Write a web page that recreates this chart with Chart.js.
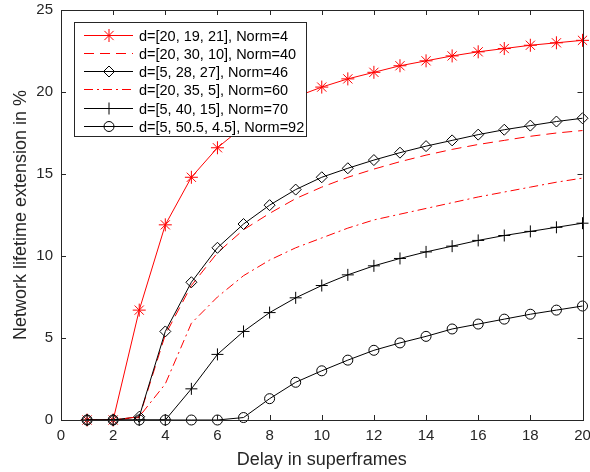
<!DOCTYPE html>
<html>
<head>
<meta charset="utf-8">
<script src="https://cdn.jsdelivr.net/npm/chart.js@4.4.1/dist/chart.umd.min.js"></script>
<style>
    html, body { margin: 0; padding: 0; background: #ffffff; }
    #chartWrap { width: 590px; height: 472px; }
</style>
</head>
<body>
<div id="chartWrap"><canvas id="lifetimeChart"></canvas></div>
<script>
// delay in superframes
const delays = [1, 2, 3, 4, 5, 6, 7, 8, 9, 10, 11, 12, 13, 14, 15, 16, 17, 18, 19, 20];

const seriesLabels = [
    "d=[20, 19, 21], Norm=4",
    "d=[20, 30, 10], Norm=40",
    "d=[5, 28, 27], Norm=46",
    "d=[20, 35, 5], Norm=60",
    "d=[5, 40, 15], Norm=70",
    "d=[5, 50.5, 4.5], Norm=92",
];

// lifetime extension in %
const norm4 = [0, 0, 6.7, 11.9, 14.8, 16.6, 17.9, 18.9, 19.7, 20.3, 20.8, 21.2, 21.6, 21.9, 22.2, 22.45, 22.65, 22.85, 23.0, 23.15];
const norm40 = [0, 0, 0.15, 5.2, 8.2, 10.2, 11.6, 12.6, 13.5, 14.2, 14.8, 15.3, 15.75, 16.15, 16.5, 16.8, 17.05, 17.3, 17.5, 17.65];
const norm46 = [0, 0, 0.2, 5.4, 8.4, 10.5, 11.95, 13.1, 14.05, 14.8, 15.35, 15.85, 16.3, 16.7, 17.05, 17.4, 17.7, 17.95, 18.2, 18.4];
const norm60 = [0, 0, 0.2, 2.2, 5.9, 7.5, 8.8, 9.75, 10.5, 11.1, 11.7, 12.2, 12.55, 12.9, 13.25, 13.6, 13.9, 14.2, 14.5, 14.75];
const norm70 = [0, 0, 0, 0, 1.9, 4.0, 5.4, 6.55, 7.45, 8.2, 8.85, 9.4, 9.85, 10.25, 10.6, 10.95, 11.25, 11.5, 11.75, 12.0];
const norm92 = [0, 0, 0, 0, 0, 0, 0.15, 1.3, 2.3, 3.0, 3.65, 4.25, 4.7, 5.1, 5.55, 5.85, 6.15, 6.45, 6.7, 6.95];

const xTicks = [0, 2, 4, 6, 8, 10, 12, 14, 16, 18, 20];
const yTicks = [0, 5, 10, 15, 20, 25];

const AXIS_COLOR = "#262626";
const FONT_FAMILY = "'Liberation Sans', Arial, sans-serif";
const RED = "#ff0000";
const BLACK = "#000000";
const NO_FILL = "rgba(255, 255, 255, 0)";

let lifetimePlot = {};

lifetimePlot.makeDataset = function (label, values, color, dash, pointStyle, radius, order) {
    return {
        label: label,
        data: values.map((v, i) => ({ x: delays[i], y: v })),
        borderColor: color,
        backgroundColor: NO_FILL,
        borderWidth: 1,
        borderDash: dash,
        pointStyle: pointStyle,
        pointRadius: radius,
        pointBorderColor: color,
        pointBackgroundColor: NO_FILL,
        pointBorderWidth: 1,
        tension: 0,
        clip: false,
        order: order,
    };
};

// MATLAB-like box with inward ticks on all four sides
lifetimePlot.framePlugin = {
    id: "frame",
    afterDraw: function (chart) {
        let ctx = chart.ctx;
        let area = chart.chartArea;
        let xScale = chart.scales.x;
        let yScale = chart.scales.y;
        let tickLen = 5;

        ctx.save();
        ctx.strokeStyle = AXIS_COLOR;
        ctx.lineWidth = 1;
        ctx.setLineDash([]);
        ctx.strokeRect(Math.round(area.left) + 0.5, Math.round(area.top) + 0.5,
            Math.round(area.right - area.left), Math.round(area.bottom - area.top));

        ctx.beginPath();
        for (const t of xTicks) {
            let px = Math.round(xScale.getPixelForValue(t)) + 0.5;
            ctx.moveTo(px, area.bottom);
            ctx.lineTo(px, area.bottom - tickLen);
            ctx.moveTo(px, area.top);
            ctx.lineTo(px, area.top + tickLen);
        }
        for (const t of yTicks) {
            let py = Math.round(yScale.getPixelForValue(t)) + 0.5;
            ctx.moveTo(area.left, py);
            ctx.lineTo(area.left + tickLen, py);
            ctx.moveTo(area.right, py);
            ctx.lineTo(area.right - tickLen, py);
        }
        ctx.stroke();
        ctx.restore();
    },
};

// boxed legend in the upper left of the plot, line sample with marker
lifetimePlot.legendPlugin = {
    id: "boxLegend",
    afterDraw: function (chart) {
        let ctx = chart.ctx;
        let box = { x: 74, y: 22, w: 232, h: 114 };
        let rowTop = 34.5;
        let rowStep = 18.3;

        ctx.save();
        ctx.fillStyle = "#ffffff";
        ctx.fillRect(box.x, box.y, box.w, box.h);
        ctx.strokeStyle = AXIS_COLOR;
        ctx.lineWidth = 1;
        ctx.setLineDash([]);
        ctx.strokeRect(box.x + 0.5, box.y + 0.5, box.w, box.h);

        ctx.font = "14.5px " + FONT_FAMILY;
        ctx.textBaseline = "middle";
        ctx.textAlign = "left";

        chart.data.datasets.forEach(function (ds, i) {
            let y = Math.round(rowTop + i * rowStep) + 0.5;
            ctx.strokeStyle = ds.borderColor;
            ctx.lineWidth = 1;
            ctx.setLineDash(ds.borderDash || []);
            ctx.beginPath();
            ctx.moveTo(84, y);
            ctx.lineTo(133, y);
            ctx.stroke();
            ctx.setLineDash([]);
            if (ds.pointRadius > 0) {
                ctx.fillStyle = NO_FILL;
                ctx.strokeStyle = ds.pointBorderColor;
                Chart.helpers.drawPoint(ctx, {
                    pointStyle: ds.pointStyle,
                    radius: ds.pointRadius,
                    rotation: 0,
                    borderWidth: 1,
                }, 109, y);
            }
            ctx.fillStyle = "#000000";
            ctx.fillText(ds.label, 139, y + 1);
        });
        ctx.restore();
    },
};

lifetimePlot.create = function () {
    let datasets = [];
    datasets.push(lifetimePlot.makeDataset(seriesLabels[0], norm4, RED, [], "star", 6.5, 5));
    datasets.push(lifetimePlot.makeDataset(seriesLabels[1], norm40, RED, [10, 6], "circle", 0, 4));
    datasets.push(lifetimePlot.makeDataset(seriesLabels[2], norm46, BLACK, [], "rectRot", 5.5, 3));
    datasets.push(lifetimePlot.makeDataset(seriesLabels[3], norm60, RED, [9, 4, 2, 4], "circle", 0, 2));
    datasets.push(lifetimePlot.makeDataset(seriesLabels[4], norm70, BLACK, [], "cross", 6, 1));
    datasets.push(lifetimePlot.makeDataset(seriesLabels[5], norm92, BLACK, [], "circle", 5, 0));

    let tickFont = { family: FONT_FAMILY, size: 15 };
    let titleFont = { family: FONT_FAMILY, size: 18 };

    lifetimePlot.canvas = document.getElementById("lifetimeChart");
    lifetimePlot.chart = new Chart(lifetimePlot.canvas, {
        type: "line",
        data: { datasets: datasets },
        options: {
            responsive: true,
            maintainAspectRatio: false,
            animation: { duration: 0 },
            layout: { padding: { left: 0, right: 4, top: 10, bottom: 0 } },
            plugins: {
                legend: { display: false },
                tooltip: { enabled: false },
            },
            scales: {
                x: {
                    type: "linear",
                    min: 0,
                    max: 20,
                    grid: { display: false, drawTicks: false },
                    border: { display: false },
                    afterBuildTicks: function (scale) {
                        scale.ticks = xTicks.map((v) => ({ value: v }));
                    },
                    afterFit: function (scale) {
                        scale.height = 52;
                        scale.paddingLeft = 0;
                        scale.paddingRight = 0;
                    },
                    ticks: {
                        color: AXIS_COLOR,
                        font: tickFont,
                        padding: 7,
                        maxRotation: 0,
                    },
                    title: {
                        display: true,
                        text: "Delay in superframes",
                        color: AXIS_COLOR,
                        font: titleFont,
                        padding: { top: 0, bottom: 1 },
                    },
                },
                y: {
                    type: "linear",
                    min: 0,
                    max: 25,
                    grid: { display: false, drawTicks: false },
                    border: { display: false },
                    afterBuildTicks: function (scale) {
                        scale.ticks = yTicks.map((v) => ({ value: v }));
                    },
                    afterFit: function (scale) {
                        scale.width = 61;
                        scale.paddingTop = 0;
                        scale.paddingBottom = 0;
                    },
                    ticks: {
                        color: AXIS_COLOR,
                        font: tickFont,
                        padding: 8,
                    },
                    title: {
                        display: true,
                        text: "Network lifetime extension in %",
                        color: AXIS_COLOR,
                        font: titleFont,
                        padding: { top: 10, bottom: 0 },
                    },
                },
            },
        },
        plugins: [lifetimePlot.framePlugin, lifetimePlot.legendPlugin],
    });
};

lifetimePlot.create();
</script>
</body>
</html>
